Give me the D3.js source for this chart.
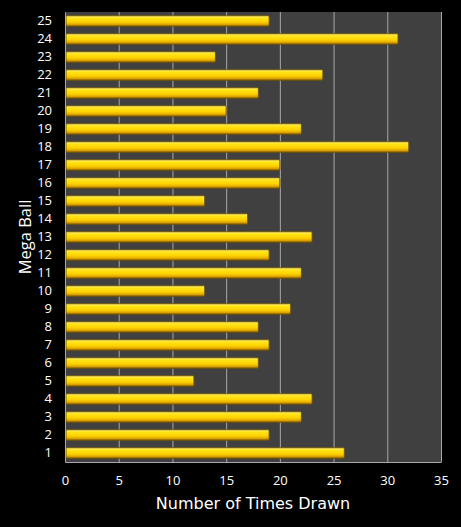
<!DOCTYPE html>
<html>
<head>
<meta charset="utf-8">
<script src="https://cdn.jsdelivr.net/npm/d3@7"></script>
<style>
  html, body { margin: 0; padding: 0; background: #000; }
  svg { display: block; }
</style>
</head>
<body>
<div class="chart"></div>
<script>
// Mega Ball draw counts
const balls = ["1","2","3","4","5","6","7","8","9","10","11","12","13","14","15","16","17","18","19","20","21","22","23","24","25"];
const timesDrawn = [26,19,22,23,12,18,19,18,21,13,22,19,23,17,13,20,20,32,22,15,18,24,14,31,19];
const xTicks = [0,5,10,15,20,25,30,35];

const width = 461, height = 527;
const margin = { top: 12, right: 20, bottom: 65, left: 65 };

const data = balls.map((b, i) => ({ ball: b, value: timesDrawn[i] }));

const x = d3.scaleLinear()
    .domain([0, 35])
    .range([margin.left, width - margin.right]);

const y = d3.scaleBand()
    .domain(balls.slice().reverse())
    .range([margin.top, height - margin.bottom])
    .paddingInner(0.42)
    .paddingOuter(0.21);

const svg = d3.select(".chart").append("svg")
    .attr("width", width)
    .attr("height", height)
    .style("font-family", "'Open Sans', 'DejaVu Sans', sans-serif");

const defs = svg.append("defs");
const grad = defs.append("linearGradient")
    .attr("id", "gold")
    .attr("x1", 0).attr("y1", 0).attr("x2", 0).attr("y2", 1);
grad.selectAll("stop")
    .data([
        [0, "#fff27e"], [0.22, "#ffe31c"], [0.55, "#ffd400"],
        [0.8, "#e6ad00"], [1, "#9c6c00"]
    ])
    .join("stop")
    .attr("offset", d => d[0])
    .attr("stop-color", d => d[1]);

// plot background
svg.append("rect")
    .attr("x", x(0)).attr("y", margin.top)
    .attr("width", x(35) - x(0))
    .attr("height", height - margin.bottom - margin.top)
    .attr("fill", "#404040");

// gridlines
svg.append("g")
    .selectAll("line")
    .data(xTicks.slice(1))
    .join("line")
    .attr("x1", d => x(d) + 0.5).attr("x2", d => x(d) + 0.5)
    .attr("y1", margin.top).attr("y2", height - margin.bottom)
    .attr("stroke", "#a8a8a8")
    .attr("stroke-width", 1);

// bars
svg.append("g")
    .selectAll("rect")
    .data(data)
    .join("rect")
    .attr("x", x(0) + 1)
    .attr("y", d => y(d.ball))
    .attr("width", d => x(d.value) - x(0) - 1)
    .attr("height", y.bandwidth())
    .attr("rx", 1)
    .attr("fill", "url(#gold)")
    .attr("stroke", "#6e5200")
    .attr("stroke-width", 0.9);

// x axis
const xAxis = g => g
    .attr("transform", `translate(0,${height - margin.bottom})`)
    .call(d3.axisBottom(x).tickValues(xTicks).tickSize(0).tickPadding(14))
    .call(g => g.select(".domain").attr("stroke", "#a8a8a8"))
    .call(g => g.selectAll(".tick text")
        .attr("fill", "#fff")
        .attr("font-size", 13)
        .attr("font-family", "'Open Sans', 'DejaVu Sans', sans-serif"));

const yAxis = g => g
    .attr("transform", `translate(${margin.left},0)`)
    .call(d3.axisLeft(y).tickSize(0).tickPadding(13))
    .call(g => g.select(".domain").attr("stroke", "#a8a8a8"))
    .call(g => g.selectAll(".tick text")
        .attr("fill", "#fff")
        .attr("font-size", 13)
        .attr("font-family", "'Open Sans', 'DejaVu Sans', sans-serif"));

svg.append("g").call(xAxis);
svg.append("g").call(yAxis);

// axis titles
svg.append("text")
    .attr("x", (x(0) + x(35)) / 2)
    .attr("y", 509)
    .attr("text-anchor", "middle")
    .attr("fill", "#fff")
    .attr("font-size", 16)
    .attr("font-family", "'DejaVu Sans', sans-serif")
    .text("Number of Times Drawn");

svg.append("text")
    .attr("transform", `translate(31,${(margin.top + height - margin.bottom) / 2}) rotate(-90)`)
    .attr("text-anchor", "middle")
    .attr("fill", "#fff")
    .attr("font-size", 16.5)
    .text("Mega Ball");
</script>
</body>
</html>
